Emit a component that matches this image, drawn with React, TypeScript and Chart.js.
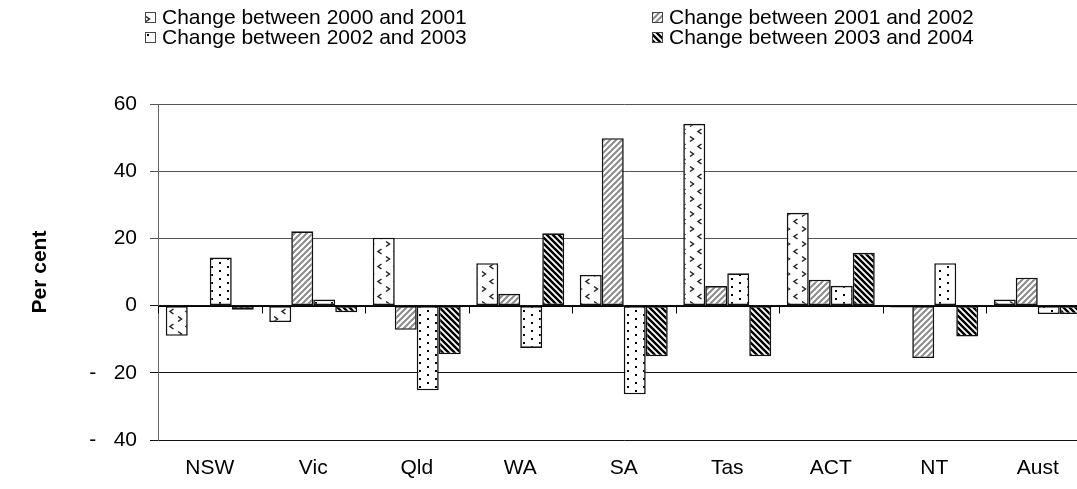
import React, { useEffect, useRef } from 'react';
import { Chart, registerables } from 'chart.js';

Chart.register(...registerables);

const categories = ['NSW', 'Vic', 'Qld', 'WA', 'SA', 'Tas', 'ACT', 'NT', 'Aust'];
const change2000to2001 = [-9.0, -4.9, 20.2, 12.6, 9.1, 54.1, 27.6, -0.6, 1.8];
const change2001to2002 = [0, 22.1, -7.2, 3.5, 49.8, 5.8, 7.7, -15.6, 8.3];
const change2002to2003 = [14.3, 1.8, -25.2, -12.6, -26.4, 9.6, 5.9, 12.6, -2.5];
const change2003to2004 = [-1.2, -2.0, -14.5, 21.5, -15.1, -15.1, 15.7, -9.2, -2.5];
const seriesLabels = [
  'Change between 2000 and 2001',
  'Change between 2001 and 2002',
  'Change between 2002 and 2003',
  'Change between 2003 and 2004',
];
const yMin = -40;
const yMax = 60;
const yStep = 20;
const yTitle = 'Per cent';

const FONT = '"Liberation Sans", Arial, sans-serif';
const FS = 21;

function makeTile(w: number, h: number, draw: (g: CanvasRenderingContext2D) => void): CanvasPattern {
  const c = document.createElement('canvas');
  c.width = w;
  c.height = h;
  const g = c.getContext('2d')!;
  g.fillStyle = '#fff';
  g.fillRect(0, 0, w, h);
  draw(g);
  return g.createPattern(c, 'repeat')!;
}

function makePatterns(): CanvasPattern[] {
  const chevrons = makeTile(16, 15, (g) => {
    g.strokeStyle = '#222';
    g.lineWidth = 1.5;
    g.beginPath();
    g.moveTo(2, 1.5); g.lineTo(5.5, 4); g.lineTo(2, 6.5);
    g.moveTo(13.5, 9); g.lineTo(10, 11.5); g.lineTo(13.5, 14);
    g.stroke();
  });
  const light = makeTile(6, 6, (g) => {
    g.strokeStyle = '#8a8a8a';
    g.lineWidth = 2;
    g.beginPath();
    g.moveTo(0, 6); g.lineTo(6, 0);
    g.moveTo(-3, 3); g.lineTo(3, -3);
    g.moveTo(3, 9); g.lineTo(9, 3);
    g.stroke();
  });
  const dots = makeTile(16, 8, (g) => {
    g.fillStyle = '#000';
    g.fillRect(3, 2, 2, 2);
    g.fillRect(11, 6, 2, 2);
  });
  const dark = makeTile(6, 6, (g) => {
    g.strokeStyle = '#000';
    g.lineWidth = 2.4;
    g.beginPath();
    g.moveTo(0, 0); g.lineTo(6, 6);
    g.moveTo(-3, 3); g.lineTo(3, 9);
    g.moveTo(3, -3); g.lineTo(9, 3);
    g.stroke();
  });
  return [chevrons, light, dots, dark];
}

const legendPlugin = {
  id: 'gridLegend',
  afterDraw(chart: any) {
    const ctx = chart.ctx as CanvasRenderingContext2D;
    const colX = [145, 652];
    const rowY = [17, 37];
    ctx.save();
    ctx.font = `${FS}px ${FONT}`;
    ctx.textBaseline = 'middle';
    ctx.textAlign = 'left';
    chart.data.datasets.forEach((ds: any, i: number) => {
      const x = colX[i % 2];
      const y = rowY[Math.floor(i / 2)];
      ctx.fillStyle = ds.backgroundColor;
      ctx.fillRect(x, y - 5, 10, 10);
      ctx.strokeStyle = '#444';
      ctx.lineWidth = 1;
      ctx.strokeRect(x + 0.5, y - 4.5, 10, 10);
      ctx.fillStyle = '#000';
      ctx.fillText(ds.label, x + 17, y + 1);
    });
    ctx.restore();
  },
};

const zeroTicksPlugin = {
  id: 'zeroTicks',
  afterDatasetsDraw(chart: any) {
    const ctx = chart.ctx as CanvasRenderingContext2D;
    const xs = chart.scales.x;
    const ys = chart.scales.y;
    const y0 = Math.round(ys.getPixelForValue(0)) + 0.5;
    ctx.save();
    ctx.strokeStyle = '#000';
    ctx.lineWidth = 1;
    ctx.beginPath();
    ctx.moveTo(chart.chartArea.left, y0);
    ctx.lineTo(chart.chartArea.right, y0);
    const n = chart.data.labels.length;
    for (let i = 0; i <= n; i++) {
      let bx: number;
      if (i === 0) bx = xs.left;
      else if (i === n) bx = xs.right;
      else bx = (xs.getPixelForValue(i - 1) + xs.getPixelForValue(i)) / 2;
      bx = Math.round(bx) + 0.5;
      ctx.moveTo(bx, y0);
      ctx.lineTo(bx, y0 + 7);
    }
    ctx.stroke();
    ctx.restore();
  },
};

export default function App() {
  const ref = useRef<HTMLCanvasElement>(null);
  useEffect(() => {
    if (!ref.current) return;
    const patterns = makePatterns();
    const series = [change2000to2001, change2001to2002, change2002to2003, change2003to2004];
    const chart = new Chart(ref.current, {
      type: 'bar',
      data: {
        labels: categories,
        datasets: series.map((d, i) => ({
          label: seriesLabels[i],
          data: d,
          backgroundColor: patterns[i] as any,
          borderColor: '#111',
          borderWidth: 1.6,
          borderSkipped: false,
          categoryPercentage: 0.85,
          barPercentage: 1.0,
        })),
      },
      options: {
        responsive: false,
        animation: false,
        events: [],
        layout: { padding: { top: 104, right: 10.5, left: 0, bottom: 0 } },
        plugins: {
          legend: { display: false },
          tooltip: { enabled: false },
        },
        scales: {
          x: {
            type: 'category',
            grid: { display: false },
            border: { display: false },
            ticks: {
              color: '#000',
              padding: 8,
              font: { family: FONT, size: FS },
              maxRotation: 0,
            },
            afterFit: (s: any) => { s.height = 49; },
          },
          y: {
            min: yMin,
            max: yMax,
            ticks: {
              stepSize: yStep,
              color: '#000',
              padding: 13,
              font: { family: FONT, size: FS },
              callback: (v: any) => (Number(v) < 0 ? '-   ' + Math.abs(Number(v)) : String(v)),
            },
            grid: {
              color: (c: any) => (c.tick && c.tick.value > 0 ? '#555' : '#111'),
              lineWidth: 1,
              tickLength: 8,
            },
            border: { display: true, color: '#666', width: 1 },
            title: {
              display: true,
              text: yTitle,
              color: '#000',
              font: { family: FONT, size: FS, weight: 'bold' },
              padding: { top: 28, bottom: 0 },
            },
            afterFit: (s: any) => { s.width = 158; },
          },
        },
      },
      plugins: [zeroTicksPlugin, legendPlugin],
    });
    return () => chart.destroy();
  }, []);
  return (
    <div style={{ position: 'fixed', left: 0, top: 0, width: 1077, height: 489, overflow: 'hidden', background: '#fff' }}>
      <canvas ref={ref} width={1100} height={489} style={{ width: 1100, height: 489, display: 'block' }} />
    </div>
  );
}
